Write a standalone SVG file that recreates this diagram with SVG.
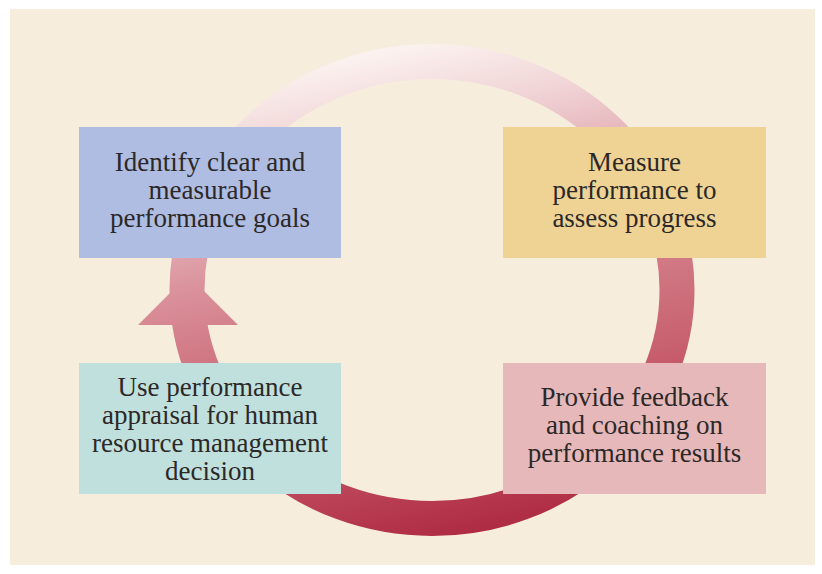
<svg xmlns="http://www.w3.org/2000/svg" width="822" height="574" viewBox="0 0 822 574">
  <defs>
    <linearGradient id="ringGrad" gradientUnits="userSpaceOnUse" x1="370" y1="46" x2="470" y2="538">
      <stop offset="0" stop-color="#fcf5f2"/>
      <stop offset="0.15" stop-color="#f1d5d7"/>
      <stop offset="0.4" stop-color="#da929c"/>
      <stop offset="0.55" stop-color="#d07783"/>
      <stop offset="0.7" stop-color="#c86170"/>
      <stop offset="0.85" stop-color="#bc4559"/>
      <stop offset="1" stop-color="#ae2a41"/>
    </linearGradient>
  </defs>
  <style>
    .box { stroke: none; }
    .lbl { font-family: "Liberation Serif", "Times New Roman", serif; font-size: 27px; fill: #2c2828; text-anchor: middle; }
  </style>
  <rect x="0" y="0" width="822" height="574" fill="#ffffff"/>
  <rect x="10" y="9" width="805" height="556" fill="#f6eddd"/>

  <g id="connectors">
    <ellipse cx="432" cy="290" rx="245" ry="228.5" fill="none" stroke="url(#ringGrad)" stroke-width="35"/>
    <polygon points="138,325 238,325 188,275" fill="url(#ringGrad)"/>
  </g>

  <g id="node-goals">
    <rect class="box" x="79" y="127" width="262" height="131" fill="#b0bde2"/>
    <text class="lbl" x="210" y="171">Identify clear and</text>
    <text class="lbl" x="210" y="199">measurable</text>
    <text class="lbl" x="210" y="227">performance goals</text>
  </g>

  <g id="node-measure">
    <rect class="box" x="503" y="127" width="263" height="131" fill="#eed395"/>
    <text class="lbl" x="634.5" y="171">Measure</text>
    <text class="lbl" x="634.5" y="199">performance to</text>
    <text class="lbl" x="634.5" y="227">assess progress</text>
  </g>

  <g id="node-feedback">
    <rect class="box" x="503" y="363" width="263" height="131" fill="#e6b8ba"/>
    <text class="lbl" x="634.5" y="406">Provide feedback</text>
    <text class="lbl" x="634.5" y="434">and coaching on</text>
    <text class="lbl" x="634.5" y="462">performance results</text>
  </g>

  <g id="node-appraisal">
    <rect class="box" x="79" y="363" width="262" height="131" fill="#c0e0dd"/>
    <text class="lbl" x="210" y="396">Use performance</text>
    <text class="lbl" x="210" y="424">appraisal for human</text>
    <text class="lbl" x="210" y="452">resource management</text>
    <text class="lbl" x="210" y="480">decision</text>
  </g>
</svg>
